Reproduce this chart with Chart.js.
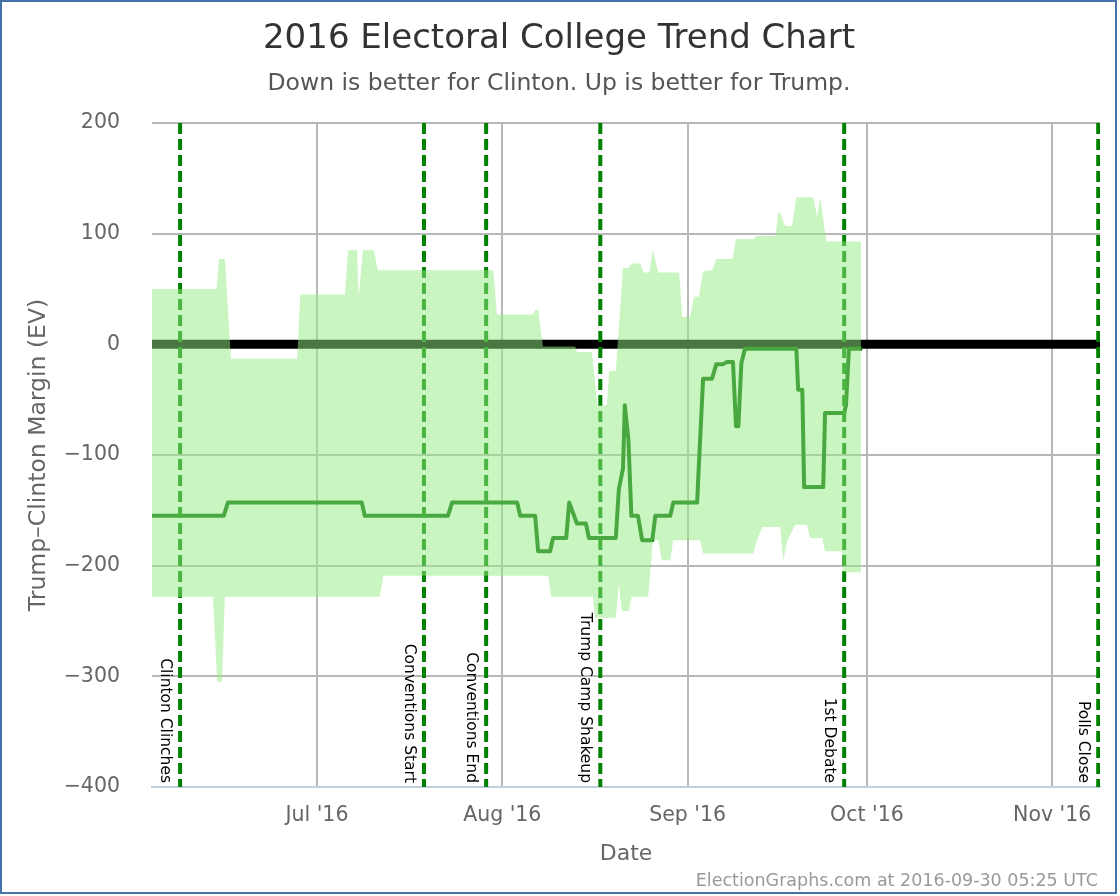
<!DOCTYPE html>
<html>
<head>
<meta charset="utf-8">
<script src="https://cdn.jsdelivr.net/npm/chart.js@4.4.0/dist/chart.umd.min.js"></script>
<style>
  html, body { margin: 0; padding: 0; background: #fff; }
  #wrap { position: relative; width: 1120px; height: 896px; }
  #wrap canvas { position: absolute; left: 0; top: 0; }
  #frame { position: absolute; left: 0; top: 0; width: 1117px; height: 894px; box-sizing: border-box; border: 2px solid #4572a7; pointer-events: none; }
</style>
</head>
<body>
<div id="wrap">
  <canvas id="chart" width="1120" height="896"></canvas>
  <div id="frame"></div>
</div>
<script>
// x values are days counted from 1 Jun 2016 (0 = Jun 1)
const xMin = 2.4;
const xMax = 161.0;

const monthTicks = [30, 61, 92, 122, 153];
const monthLabels = ["Jul '16", "Aug '16", "Sep '16", "Oct '16", "Nov '16"];

const eventDays = [7.1, 47.9, 58.3, 77.4, 118.2, 160.7];
const eventLabels = ["Clinton Clinches", "Conventions Start", "Conventions End", "Trump Camp Shakeup", "1st Debate", "Polls Close"];

// upper edge of the range band
const bandHighDays = [2.4, 13.2, 13.6, 14.6, 15.6, 26.7, 27.2, 34.7, 35.2, 36.7, 37.0, 37.7, 39.5, 40.2, 59.5, 60.1, 66.2, 66.5, 67.0, 67.8, 73.2, 73.5, 76.0, 76.9, 78.5, 78.9, 80.0, 81.2, 82.1, 82.7, 84.1, 84.6, 85.6, 86.2, 87.1, 90.6, 91.1, 92.4, 93.1, 93.9, 94.6, 96.1, 96.8, 99.5, 100.1, 103.0, 103.6, 106.7, 107.2, 107.5, 108.3, 109.5, 110.2, 113.0, 113.7, 114.2, 115.2, 121.0];
const bandHigh = [50, 50, 77, 77, -13, -13, 45, 45, 85, 85, 43, 85, 85, 67, 67, 27, 27, 31, 31, -2, -2, -7, -7, -55, -55, -24, -24, 69, 69, 73, 73, 65, 65, 85, 65, 65, 25, 25, 43, 43, 66, 67, 77, 77, 95, 95, 98, 98, 119, 119, 107, 107, 133, 133, 115, 133, 93, 93];

// lower edge of the range band
const bandLowDays = [2.4, 12.6, 13.3, 14.1, 14.6, 40.5, 41.1, 68.7, 69.2, 76.2, 76.5, 80.0, 80.5, 81.0, 82.2, 82.6, 85.4, 86.2, 87.1, 87.7, 89.1, 89.6, 94.1, 94.6, 103.0, 103.6, 104.5, 107.5, 108.0, 108.7, 110.0, 112.0, 112.5, 114.5, 115.0, 117.8, 118.0, 121.0];
const bandLow = [-228, -228, -305, -305, -228, -228, -209, -209, -228, -228, -247, -247, -216, -241, -241, -228, -228, -177, -177, -195, -195, -177, -177, -189, -189, -177, -165, -165, -195, -177, -163, -163, -175, -175, -187, -187, -206, -206];

// median margin
const medianDays = [2.4, 14.4, 15.1, 37.5, 38.0, 51.9, 52.6, 63.5, 64.0, 66.5, 67.0, 69.0, 69.5, 71.7, 72.2, 73.5, 75.0, 75.5, 80.0, 80.5, 81.2, 81.5, 82.1, 82.6, 83.7, 84.4, 86.1, 86.6, 89.1, 89.6, 93.6, 93.9, 94.6, 96.1, 96.8, 97.9, 98.6, 99.6, 100.1, 100.5, 101.0, 101.6, 110.2, 110.5, 111.2, 111.5, 114.7, 115.0, 118.2, 118.5, 119.0, 121.2];
const medianValues = [-155, -155, -143, -143, -155, -155, -143, -143, -155, -155, -187, -187, -175, -175, -143, -162, -162, -175, -175, -131, -112, -55, -86, -155, -155, -177, -177, -155, -155, -143, -143, -108, -31, -31, -18, -18, -16, -16, -74, -74, -17, -4, -4, -41, -41, -129, -129, -62, -62, -55, -4, -4];

const yMin = -400;
const yMax = 200;

const toPoints = (xs, ys) => xs.map((x, i) => ({ x: x, y: ys[i] }));

Chart.defaults.font.family = '"DejaVu Sans", sans-serif';

// event lines go from top to bottom of the plot
const eventSets = eventDays.map((d) => ({
  data: [{ x: d, y: yMax }, { x: d, y: yMin }],
  borderColor: "#008000",
  borderWidth: 4,
  borderDash: [11, 5],
  pointRadius: 0,
  fill: false,
}));

const textPlugin = {
  id: "textPlugin",
  afterDatasetsDraw(chart) {
    const { ctx, chartArea } = chart;
    const xs = chart.scales.x;
    ctx.save();
    ctx.font = '15.5px "DejaVu Sans"';
    ctx.fillStyle = "#000";
    ctx.textAlign = "right";
    ctx.textBaseline = "alphabetic";
    eventDays.forEach((d, i) => {
      const px = xs.getPixelForValue(d);
      ctx.save();
      ctx.translate(px - 19, chartArea.bottom - 4);
      ctx.rotate(Math.PI / 2);
      ctx.fillText(eventLabels[i], 0, 0);
      ctx.restore();
    });
    ctx.restore();
  },
  afterDraw(chart) {
    const { ctx } = chart;
    ctx.save();
    ctx.textAlign = "center";
    ctx.textBaseline = "alphabetic";
    ctx.fillStyle = "#333";
    ctx.font = '34px "DejaVu Sans"';
    ctx.fillText("2016 Electoral College Trend Chart", 559, 48);
    ctx.fillStyle = "#555";
    ctx.font = '23.5px "DejaVu Sans"';
    ctx.fillText("Down is better for Clinton. Up is better for Trump.", 559, 90);
    ctx.textAlign = "right";
    ctx.fillStyle = "#999";
    ctx.font = '17.5px "DejaVu Sans"';
    ctx.fillText("ElectionGraphs.com at 2016-09-30 05:25 UTC", 1098, 886);
    ctx.restore();
  },
};

new Chart(document.getElementById("chart").getContext("2d"), {
  type: "line",
  data: {
    datasets: [
      {
        // band, filled down to the next dataset (drawn on top, semi-transparent)
        data: toPoints(bandHighDays, bandHigh),
        borderWidth: 0,
        pointRadius: 0,
        backgroundColor: "rgba(147, 235, 129, 0.5)",
        fill: "+1",
      },
      {
        data: toPoints(bandLowDays, bandLow),
        borderWidth: 0,
        pointRadius: 0,
        fill: false,
      },
      ...eventSets,
      {
        data: toPoints(medianDays, medianValues),
        borderColor: "#006400",
        borderWidth: 4,
        borderJoinStyle: "round",
        pointRadius: 0,
        fill: false,
      },
      {
        data: [{ x: xMin, y: 0 }, { x: xMax, y: 0 }],
        borderColor: "#000",
        borderWidth: 9,
        pointRadius: 0,
        fill: false,
      },
    ],
  },
  options: {
    responsive: false,
    animation: false,
    devicePixelRatio: 1,
    layout: { padding: { top: 123, right: 20, bottom: 0, left: 0 } },
    plugins: {
      legend: { display: false },
      tooltip: { enabled: false },
      title: { display: false },
    },
    scales: {
      x: {
        type: "linear",
        min: xMin,
        max: xMax,
        afterFit: (s) => { s.height = 109; },
        afterBuildTicks: (s) => { s.ticks = monthTicks.map((v) => ({ value: v })); },
        ticks: {
          autoSkip: false,
          maxRotation: 0,
          padding: 16.5,
          color: "#666",
          font: { size: 20.5 },
          callback: (v) => monthLabels[monthTicks.indexOf(v)],
        },
        grid: { color: "#b8b8b8", lineWidth: 2, drawTicks: false },
        border: { color: "#c0d0e0", width: 2 },
        title: {
          display: true,
          text: "Date",
          color: "#666",
          font: { size: 22 },
          padding: { top: 0, bottom: 28.4 },
        },
      },
      y: {
        min: yMin,
        max: yMax,
        afterFit: (s) => { s.width = 152; },
        ticks: {
          stepSize: 100,
          padding: 32,
          color: "#666",
          font: { size: 20.5 },
          callback: (v) => String(v).replace("-", "\u2212"),
        },
        grid: {
          color: (c) => (c.tick && c.tick.value === yMin ? "rgba(0,0,0,0)" : "#b8b8b8"),
          lineWidth: 2,
          drawTicks: false,
        },
        border: { display: false },
        title: {
          display: true,
          text: "Trump\u2013Clinton Margin (EV)",
          color: "#666",
          font: { size: 23.5 },
          padding: { top: 25, bottom: 0 },
        },
      },
    },
  },
  plugins: [textPlugin],
});
</script>
</body>
</html>
